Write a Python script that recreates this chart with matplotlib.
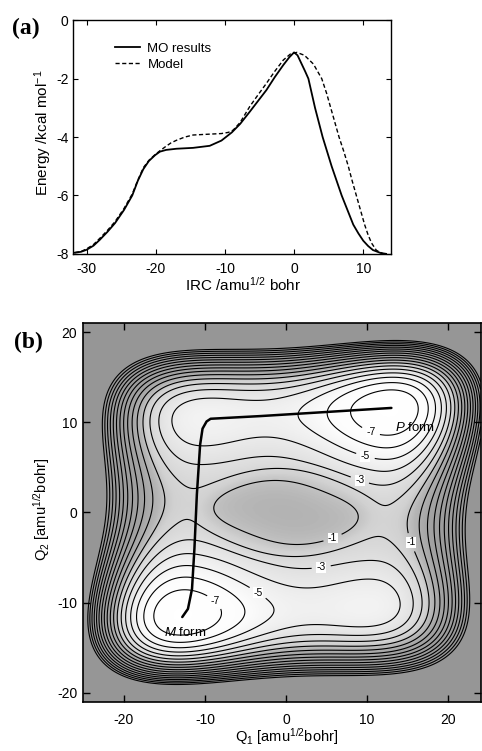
import numpy as np
import matplotlib
matplotlib.use("Agg")
import matplotlib.pyplot as plt
from matplotlib.colors import LinearSegmentedColormap

plt.rcParams["font.family"] = ["Liberation Sans", "DejaVu Sans"]
plt.rcParams["axes.unicode_minus"] = False
plt.rcParams["mathtext.fontset"] = "custom"
plt.rcParams["mathtext.rm"] = "Liberation Sans"
plt.rcParams["mathtext.it"] = "Liberation Sans:italic"
plt.rcParams["contour.negative_linestyle"] = "solid"

# ---- panel (a): energy along the IRC ----
mo_irc = [-31.7, -30.8, -30.0, -29.0, -28.1, -27.0, -25.9, -24.6, -23.4, -22.6,
          -21.8, -21.0, -20.1, -19.4, -18.5, -17.0, -14.6, -12.2, -10.5, -9.0,
          -7.8, -6.4, -5.2, -4.0, -2.8, -1.55, -0.7, 0.0, 0.5, 1.1,
          1.6, 2.07, 3.03, 4.13, 5.43, 6.88, 8.56, 9.3, 10.0, 10.7,
          11.4, 12.5, 13.3]
mo_energy = [-7.96, -7.93, -7.86, -7.72, -7.52, -7.25, -6.95, -6.5, -6.0, -5.5,
             -5.1, -4.82, -4.62, -4.5, -4.44, -4.40, -4.37, -4.30, -4.12, -3.84,
             -3.55, -3.13, -2.76, -2.39, -1.95, -1.53, -1.27, -1.10, -1.2, -1.5,
             -1.75, -2.0, -3.0, -4.0, -5.0, -6.0, -7.0, -7.3, -7.55, -7.73,
             -7.87, -7.97, -8.0]

model_irc = [-31.7, -30.8, -30.0, -29.0, -28.1, -27.0, -25.9, -24.6, -23.4, -22.6,
             -21.8, -21.0, -20.1, -19.4, -18.6, -17.8, -17.0, -15.8, -14.6, -12.2,
             -10.5, -9.5, -8.8, -7.8, -6.4, -5.2, -4.0, -2.8, -1.55, -0.5,
             0.4, 1.5, 2.8, 4.0, 4.7, 5.3, 5.9, 6.5, 7.2, 7.84,
             8.4, 9.0, 9.6, 10.2, 10.7, 11.2, 11.9, 12.9]
model_energy = [-7.96, -7.92, -7.83, -7.68, -7.47, -7.2, -6.9, -6.45, -5.95, -5.48,
                -5.05, -4.8, -4.6, -4.47, -4.33, -4.2, -4.11, -4.0, -3.93, -3.90,
                -3.88, -3.84, -3.76, -3.5, -2.95, -2.55, -2.16, -1.75, -1.36, -1.15,
                -1.10, -1.2, -1.5, -2.0, -2.5, -3.0, -3.5, -4.0, -4.5, -5.0,
                -5.5, -6.0, -6.5, -7.0, -7.35, -7.63, -7.88, -8.0]

well_q1 = 11.5        # wells sit near Q1 = +-11.5
well_q2 = 10.85       # and Q2 = +-10.85
barrier_q1 = 1.6      # barrier height along Q1 (top / bottom rows)
barrier_q2 = 4.415    # barrier height along Q2
coupling = 1.6        # Q1*Q2 coupling (deepens M and P forms)
offset = -6.3
center_dip = 0.69     # part of the Q1 barrier missing near Q2 = 0
dip_width = 6.0
mesa_height = 0.99    # flat central hump (the -1 island)
mesa_q1 = 10.5
mesa_q2 = 5.0

label_levels = [-7, -5, -3, -1]
plain_levels = [-6, -4, -2, 0, 1, 2, 3, 4, 5, 6, 7, 8, 9, 10]
label_spots = [(10.6, 9.3), (9.9, 6.6), (9.3, 4.1), (5.9, -3.2), (13.6, -3.9),
               (4.6, -7.8), (-4.0, -9.6), (-9.3, -10.4)]

# IRC path drawn on the surface
path_q1 = [-12.8, -12.1, -11.6, -11.3, -11.0, -10.6, -10.3, -9.8, -9.3, -3.1, 13.0]
path_q2 = [-11.6, -10.7, -8.5, -4.0, 2.0, 7.5, 9.3, 10.1, 10.4, 10.7, 11.6]

# grey shading of the surface (energy -> grey)
shade_energy = [-8, -6, -4.5, -3, -1.5, -0.5, 1, 4, 11]
shade_grey = [1.0, 0.99, 0.94, 0.88, 0.82, 0.71, 0.64, 0.61, 0.59]


def surface(q1, q2):
    """Coupled double-well model for the two normal coordinates."""
    X = q1 / well_q1
    Y = q2 / well_q2
    dip = 1 - center_dip * np.exp(-X**8) * np.exp(-(q2 / dip_width) ** 2)
    mesa = np.exp(-((q1 / mesa_q1) ** 2 + (q2 / mesa_q2) ** 2) ** 4)
    return (barrier_q1 * (X**2 - 1) ** 2 * dip + barrier_q2 * (Y**2 - 1) ** 2
            - coupling * X * Y + offset + mesa_height * mesa)


fig = plt.figure(figsize=(4.82, 7.51), dpi=100)

# ------------------------- (a) -------------------------
ax = fig.add_axes([0.151, 0.662, 0.66, 0.311])
ax.plot(mo_irc, mo_energy, color="k", lw=1.3, label="MO results")
ax.plot(model_irc, model_energy, color="k", lw=1.0, ls=(0, (3, 1.8)), label="Model")
ax.set_xlim(-32, 14)
ax.set_ylim(-8, 0)
ax.set_xticks([-30, -20, -10, 0, 10])
ax.set_yticks([0, -2, -4, -6, -8])
ax.tick_params(direction="in", top=True, right=True, length=3.6, width=0.8,
               labelsize=10)
ax.tick_params(axis="x", pad=6)
ax.tick_params(axis="y", pad=3)
for s in ax.spines.values():
    s.set_linewidth(1.0)
ax.set_xlabel("IRC /amu$^{1/2}$ bohr", fontsize=11)
ax.xaxis.set_label_coords(0.535, -0.095)
ax.set_ylabel("Energy /kcal mol$^{-1}$", fontsize=11)
ax.yaxis.set_label_coords(-0.06, 0.52)
ax.legend(loc="upper left", bbox_to_anchor=(0.133, 0.905), frameon=False,
          fontsize=9.5, handlelength=1.9, handletextpad=0.55, labelspacing=0.3,
          borderpad=0, borderaxespad=0)
fig.text(12 / 482, 1 - 34 / 751, "(a)", family="Liberation Serif",
         weight="bold", fontsize=17)

# ------------------------- (b) -------------------------
bx = fig.add_axes([0.173, 0.0656, 0.824, 0.504])
q1 = np.linspace(-25, 24, 500)
q2 = np.linspace(-21, 21, 500)
Q1, Q2 = np.meshgrid(q1, q2)
V = surface(Q1, Q2)

lo, hi = shade_energy[0], shade_energy[-1]
cmap = LinearSegmentedColormap.from_list(
    "grey", [((e - lo) / (hi - lo), (g, g, g)) for e, g in zip(shade_energy, shade_grey)])
bx.imshow(V, extent=[q1[0], q1[-1], q2[0], q2[-1]], origin="lower", cmap=cmap,
          vmin=lo, vmax=hi, aspect="auto", interpolation="bilinear")
bx.contour(Q1, Q2, V, levels=plain_levels, colors="k", linewidths=0.8)
cs = bx.contour(Q1, Q2, V, levels=label_levels, colors="k", linewidths=0.8)
texts = bx.clabel(cs, manual=label_spots, inline=True, fmt="%d", fontsize=7.5)
for t in texts:
    t.set_rotation(0)
    t.set_bbox(dict(facecolor="white", edgecolor="none", pad=0.3))

bx.plot(path_q1, path_q2, color="k", lw=1.8, solid_capstyle="round")
bx.text(13.4, 9.4, "$P$ form", fontsize=9.5, ha="left", va="center")
bx.text(-15.0, -13.3, "$M$ form", fontsize=9.5, ha="left", va="center")

bx.set_xlim(-25, 24)
bx.set_ylim(-21, 21)
bx.set_xticks([-20, -10, 0, 10, 20])
bx.set_yticks([-20, -10, 0, 10, 20])
bx.tick_params(direction="in", top=True, right=True, length=5, width=1.0,
               labelsize=10)
bx.tick_params(axis="x", pad=8)
bx.tick_params(axis="y", pad=4.5)
for s in bx.spines.values():
    s.set_linewidth(1.2)
bx.set_xlabel("Q$_1$ [amu$^{1/2}$bohr]", fontsize=10.5)
bx.xaxis.set_label_coords(0.511, -0.065)
bx.set_ylabel("Q$_2$ [amu$^{1/2}$bohr]", fontsize=10.5)
bx.yaxis.set_label_coords(-0.08, 0.507)
fig.text(14 / 482, 1 - 348 / 751, "(b)", family="Liberation Serif",
         weight="bold", fontsize=17)

fig.savefig("out.png", dpi=100)
